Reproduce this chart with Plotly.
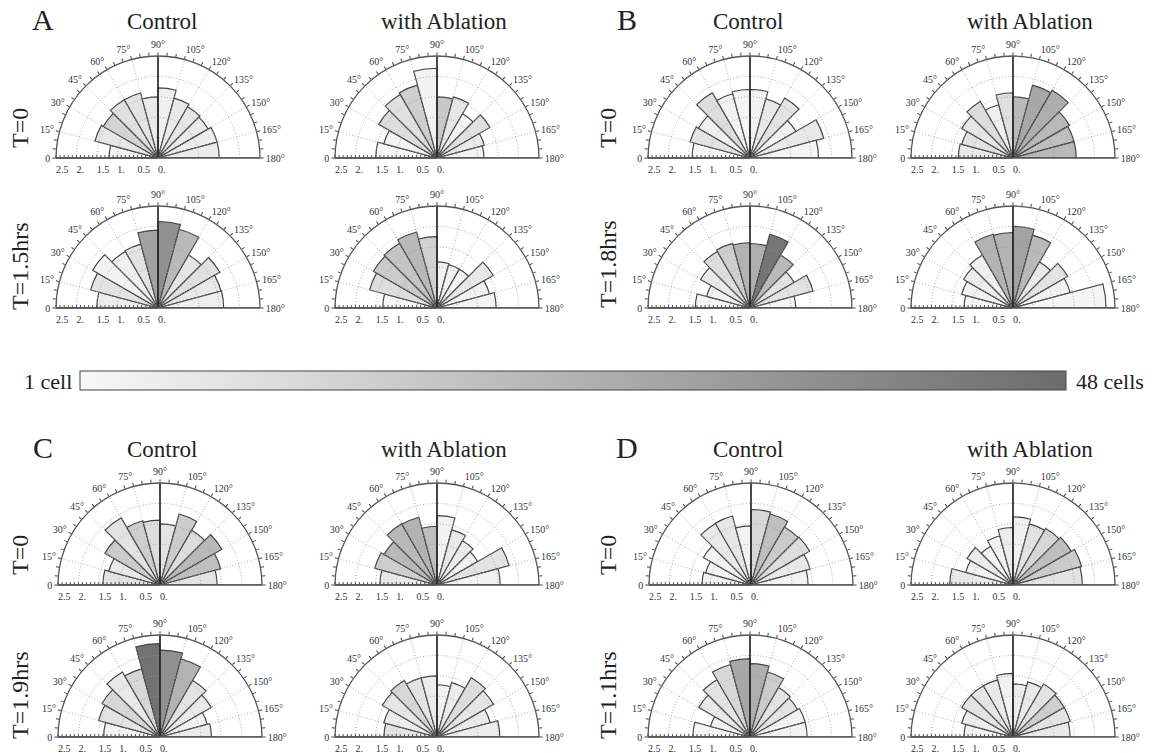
import numpy as np
import plotly.graph_objects as go

W, H = 1171, 753

# 12 angular sectors, 15 degrees wide, measured from the left baseline
sector_centers = [7.5 + 15 * i for i in range(12)]

# Radial length of each sector bar and number of cells in it
A_ctrl_t0 = [1.2, 1.6, 1.55, 1.65, 1.65, 1.5, 1.72, 1.52, 1.45, 1.42, 1.5, 1.5]
A_ctrl_t0_n = [3, 7, 13, 9, 8, 6, 4, 6, 7, 6, 5, 5]
A_abl_t0 = [1.5, 1.35, 1.65, 1.8, 1.85, 2.2, 1.5, 1.55, 1.25, 1.5, 1.2, 1.15]
A_abl_t0_n = [2, 3, 10, 9, 15, 3, 17, 7, 3, 9, 6, 3]
A_ctrl_t1 = [1.5, 1.71, 1.85, 1.6, 1.62, 1.91, 2.12, 2.0, 1.5, 1.75, 1.6, 1.61]
A_ctrl_t1_n = [5, 8, 3, 4, 8, 30, 36, 22, 7, 9, 6, 4]
A_abl_t1 = [1.33, 1.71, 1.8, 1.83, 1.93, 1.75, 1.13, 1.1, 1.1, 1.59, 1.33, 1.45]
A_abl_t1_n = [2, 10, 16, 18, 22, 14, 3, 3, 2, 6, 3, 3]

B_ctrl_t0 = [1.42, 1.52, 1.46, 1.85, 1.63, 1.68, 1.68, 1.5, 1.7, 1.3, 1.87, 1.68]
B_ctrl_t0_n = [2, 8, 4, 10, 3, 2, 3, 6, 8, 3, 6, 2]
B_abl_t0 = [1.34, 1.3, 1.45, 1.6, 1.35, 1.6, 1.5, 1.85, 1.92, 1.6, 1.55, 1.55]
B_abl_t0_n = [6, 8, 7, 10, 4, 9, 22, 28, 26, 22, 20, 22]
B_ctrl_t1 = [1.34, 1.1, 1.4, 1.6, 1.64, 1.6, 1.58, 1.87, 1.5, 1.25, 1.6, 1.12]
B_ctrl_t1_n = [2, 3, 6, 10, 15, 24, 26, 45, 22, 8, 8, 2]
B_abl_t1 = [1.2, 1.3, 1.4, 1.5, 1.87, 1.85, 2.0, 1.85, 1.3, 1.55, 1.45, 2.28]
B_abl_t1_n = [2, 3, 5, 4, 24, 24, 30, 22, 6, 8, 3, 2]

C_ctrl_t0 = [1.4, 1.3, 1.56, 1.9, 1.63, 1.59, 1.5, 1.8, 1.55, 1.75, 1.54, 1.4]
C_ctrl_t0_n = [8, 6, 16, 8, 15, 10, 8, 16, 10, 22, 20, 8]
C_abl_t0 = [1.4, 1.58, 1.5, 1.73, 1.72, 1.44, 1.7, 1.4, 1.25, 1.15, 1.83, 1.55]
C_abl_t0_n = [6, 15, 22, 22, 24, 20, 3, 6, 5, 3, 8, 3]
C_ctrl_t1 = [1.38, 1.56, 1.64, 1.84, 1.73, 2.29, 2.13, 1.98, 1.6, 1.45, 1.2, 1.26]
C_ctrl_t1_n = [3, 8, 12, 6, 12, 46, 36, 24, 8, 6, 3, 5]
C_abl_t1 = [1.3, 1.35, 1.55, 1.6, 1.5, 1.5, 1.28, 1.38, 1.68, 1.6, 1.35, 1.54]
C_abl_t1_n = [8, 5, 7, 12, 8, 5, 3, 5, 10, 7, 6, 5]

D_ctrl_t0 = [1.2, 1.15, 1.35, 1.74, 1.75, 1.45, 1.85, 1.8, 1.64, 1.66, 1.5, 1.4]
D_ctrl_t0_n = [3, 2, 3, 6, 7, 3, 12, 20, 16, 10, 6, 3]
D_abl_t0 = [1.55, 1.2, 1.3, 1.1, 1.25, 1.41, 1.67, 1.55, 1.6, 1.65, 1.74, 1.7]
D_abl_t0_n = [6, 3, 5, 2, 3, 5, 4, 8, 12, 20, 16, 8]
D_ctrl_t1 = [1.4, 1.0, 1.45, 1.62, 1.84, 1.92, 1.8, 1.65, 1.4, 1.35, 1.4, 1.4]
D_ctrl_t1_n = [2, 3, 6, 8, 12, 28, 26, 16, 8, 8, 3, 3]
D_abl_t1 = [1.2, 1.3, 1.45, 1.45, 1.45, 1.56, 1.3, 1.4, 1.5, 1.45, 1.45, 1.4]
D_abl_t1_n = [3, 5, 8, 7, 6, 3, 5, 6, 8, 15, 8, 6]

# Axis tick labels (angular ticks every 5 degrees, labelled every 15)
angle_marks = list(range(0, 181, 5))
angle_labels = ["0" if a == 0 else (f"{a}°" if a % 15 == 0 else "") for a in angle_marks]
radial_ticks = [round(0.1 * i, 1) for i in range(26)]
radial_label_map = {0.0: "0.", 0.5: "0.5", 1.0: "1.", 1.5: "1.5", 2.0: "2.", 2.5: "2.5"}
radial_labels = [radial_label_map.get(v, "") for v in radial_ticks]

panels = [
    # (radii, counts, centre x px, baseline y px)
    (A_ctrl_t0, A_ctrl_t0_n, 158, 158), (A_abl_t0, A_abl_t0_n, 437, 158),
    (A_ctrl_t1, A_ctrl_t1_n, 158, 308), (A_abl_t1, A_abl_t1_n, 437, 308),
    (B_ctrl_t0, B_ctrl_t0_n, 750, 158), (B_abl_t0, B_abl_t0_n, 1013, 158),
    (B_ctrl_t1, B_ctrl_t1_n, 750, 308), (B_abl_t1, B_abl_t1_n, 1013, 308),
    (C_ctrl_t0, C_ctrl_t0_n, 160, 585), (C_abl_t0, C_abl_t0_n, 437, 585),
    (C_ctrl_t1, C_ctrl_t1_n, 160, 737), (C_abl_t1, C_abl_t1_n, 437, 737),
    (D_ctrl_t0, D_ctrl_t0_n, 751, 585), (D_abl_t0, D_abl_t0_n, 1013, 585),
    (D_ctrl_t1, D_ctrl_t1_n, 750, 737), (D_abl_t1, D_abl_t1_n, 1013, 737),
]
R = 102
SERIF = "Liberation Serif"
GRID = dict(color="#9a9a9a", width=0.8, dash="1px,2px")

fig = go.Figure()
layout_polars = {}
arc_theta = np.linspace(0, 180, 121)

for k, (radii, counts, cx, cy) in enumerate(panels):
    sub = "polar" if k == 0 else f"polar{k + 1}"
    fig.add_trace(go.Barpolar(
        r=radii, theta=sector_centers, width=[15] * 12,
        marker=dict(color=counts, coloraxis="coloraxis",
                    line=dict(color="#404040", width=1.15)),
        subplot=sub, showlegend=False, hoverinfo="r+theta",
    ))
    # dotted range circles
    for rr in [0.5, 1.0, 1.5, 2.0]:
        fig.add_trace(go.Scatterpolar(
            r=[rr] * len(arc_theta), theta=arc_theta, mode="lines",
            line=GRID, subplot=sub, showlegend=False, hoverinfo="skip"))
    # dotted spokes every 15 degrees
    for a in range(15, 180, 15):
        if a == 90:
            continue
        fig.add_trace(go.Scatterpolar(
            r=[0, 2.5], theta=[a, a], mode="lines",
            line=GRID, subplot=sub, showlegend=False, hoverinfo="skip"))
    # solid vertical and right baseline
    fig.add_trace(go.Scatterpolar(
        r=[0, 2.5], theta=[90, 90], mode="lines",
        line=dict(color="#2a2a2a", width=1.7),
        subplot=sub, showlegend=False, hoverinfo="skip"))
    fig.add_trace(go.Scatterpolar(
        r=[0, 2.5], theta=[180, 180], mode="lines",
        line=dict(color="#555555", width=1.6),
        subplot=sub, showlegend=False, hoverinfo="skip"))

    layout_polars[sub] = dict(
        domain=dict(x=[(cx - R) / W, (cx + R) / W],
                    y=[(H - cy) / H, (H - cy + R) / H]),
        sector=[0, 180],
        bgcolor="white",
        angularaxis=dict(
            rotation=180, direction="clockwise",
            # the half-plane sector spans theta -360..-180 (same as 0..180)
            tickmode="array", tickvals=[a - 360 for a in angle_marks],
            ticktext=angle_labels,
            ticks="outside", ticklen=3, tickcolor="#444", tickwidth=1,
            showgrid=False, showline=True, linecolor="#555", linewidth=1.3,
            tickfont=dict(family=SERIF, size=10, color="#333"),
        ),
        radialaxis=dict(
            range=[0, 2.5], angle=180, side="counterclockwise",
            tickmode="array", tickvals=radial_ticks, ticktext=radial_labels,
            ticks="inside", ticklen=2, tickcolor="#444", tickangle=180,
            showgrid=False, showline=True, linecolor="#555", linewidth=1.6,
            tickfont=dict(family=SERIF, size=10, color="#333"),
        ),
    )

annotations = []


def px(x):
    return x / W


def py(y):
    return 1 - y / H


def text(x, y, s, size, angle=0, xanchor="center"):
    annotations.append(dict(x=px(x), y=py(y), xref="paper", yref="paper", text=s,
                            showarrow=False, textangle=angle, xanchor=xanchor,
                            yanchor="middle",
                            font=dict(family=SERIF, size=size, color="#222")))


for letter, lx, ty in [("A", 43, 20), ("B", 627, 20), ("C", 43, 447), ("D", 627, 447)]:
    text(lx, ty, letter, 30)
for cx_c, cx_a, ty in [(162, 444, 22), (748, 1030, 22), (162, 444, 449), (748, 1030, 449)]:
    text(cx_c, ty, "Control", 23)
    text(cx_a, ty, "with Ablation", 23)

for rx, ry, s in [(20, 128, "T=0"), (20, 266, "T=1.5hrs"),
                  (608, 128, "T=0"), (608, 264, "T=1.8hrs"),
                  (20, 555, "T=0"), (20, 695, "T=1.9hrs"),
                  (608, 555, "T=0"), (608, 695, "T=1.1hrs")]:
    text(rx, ry, s, 24, angle=-90)

text(74, 381, "1 cell", 22, xanchor="right")
text(1074, 381, "48 cells", 22, xanchor="left")

fig.update_layout(
    width=W, height=H,
    margin=dict(l=0, r=0, t=0, b=0),
    paper_bgcolor="white",
    showlegend=False,
    annotations=annotations,
    coloraxis=dict(
        cmin=1, cmax=48,
        colorscale=[[0, "#f8f8f8"], [1, "#6c6c6c"]],
        colorbar=dict(
            orientation="h", x=px(573), xanchor="center",
            y=py(381), yanchor="middle",
            len=986 / W, lenmode="fraction", thickness=19,
            xpad=0, ypad=0, outlinewidth=1, outlinecolor="#444",
            showticklabels=False, ticks="",
        ),
    ),
    **layout_polars,
)

fig.write_html("out.html")
